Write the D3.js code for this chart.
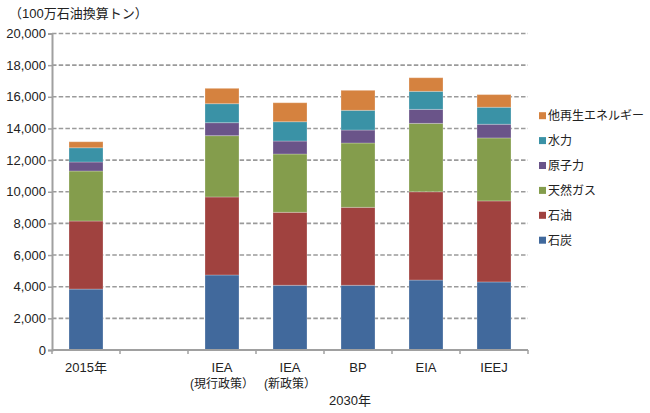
<!DOCTYPE html>
<html><head><meta charset="utf-8">
<script src="https://cdn.jsdelivr.net/npm/d3@7"></script>
<style>
html,body{margin:0;padding:0;background:#fff;}
svg{display:block;font-family:"Liberation Sans","Noto Sans CJK JP",sans-serif;}
</style></head>
<body><svg id="c" width="650" height="413"></svg>
<script>
// ---- data ----
const categories = ["2015", "gap", "IEA_cur", "IEA_new", "BP", "EIA", "IEEJ"];
const categoryLabels = [["2015年"], [], ["IEA", "(現行政策）"], ["IEA", "(新政策）"], ["BP"], ["EIA"], ["IEEJ"]];
const groupLabel = "2030年";
const seriesNames = ["石炭", "石油", "天然ガス", "原子力", "水力", "他再生エネルギー"];
const coal    = [3850, 0, 4740, 4090, 4090, 4420, 4300];
const oil     = [4300, 0, 4930, 4610, 4925, 5580, 5120];
const gas     = [3160, 0, 3875, 3685, 4065, 4320, 3980];
const nuclear = [570,  0, 820,  820,  820,  885,  865];
const hydro   = [900,  0, 1200, 1220, 1245, 1140, 1075];
const otherRe = [380,  0, 970,  1200, 1265, 860,  800];
const yTicks = [0, 2000, 4000, 6000, 8000, 10000, 12000, 14000, 16000, 18000, 20000];
const unitLabel = "（100万石油換算トン）";
const colors = ["#41699c", "#a0423f", "#849d4c", "#6a5489", "#3a92a6", "#d5823f"];

// ---- build ----
const seriesArrays = [coal, oil, gas, nuclear, hydro, otherRe];
const rows = categories.map((c, i) => {
  const r = {cat: c};
  seriesNames.forEach((s, j) => r[s] = seriesArrays[j][i]);
  return r;
});

const svg = d3.select("#c");
const mLeft = 52, mRight = 528, mTop = 33.5, mBottom = 350;

const x = d3.scaleBand().domain(categories).range([mLeft, mRight]).paddingInner(0.5).paddingOuter(0.25);
const y = d3.scaleLinear().domain([0, 20000]).range([mBottom, mTop]);

// gridlines
svg.append("g").selectAll("line").data(yTicks.filter(d => d > 0)).join("line")
  .attr("x1", mLeft).attr("x2", mRight)
  .attr("y1", d => y(d)).attr("y2", d => y(d))
  .attr("stroke", "#9a9a9a").attr("stroke-width", 1.6)
  .attr("stroke-dasharray", "4.5,2.2");

// bars
const stack = d3.stack().keys(seriesNames)(rows);
svg.append("g").selectAll("g").data(stack).join("g")
  .attr("fill", (d, i) => colors[i])
  .selectAll("rect").data(d => d.filter(p => p[1] - p[0] > 0)).join("rect")
  .attr("x", d => x(d.data.cat))
  .attr("width", x.bandwidth())
  .attr("y", d => y(d[1]))
  .attr("height", d => y(d[0]) - y(d[1]))
  .attr("stroke", "rgba(255,255,255,0.25)").attr("stroke-width", 1);

// y axis
const yAxis = d3.axisLeft(y).tickValues(yTicks).tickSize(4).tickPadding(2)
  .tickFormat(d3.format(","));
const ya = svg.append("g").attr("transform", `translate(${mLeft},0)`).call(yAxis);
ya.select(".domain").attr("stroke", "#a0a0a0").attr("stroke-width", 2);
ya.selectAll(".tick line").attr("stroke", "#a0a0a0").attr("stroke-width", 1.5);
ya.selectAll(".tick text").attr("font-size", 13).attr("fill", "#222")
  .attr("font-family", "'Liberation Sans', 'Noto Sans CJK JP', sans-serif");

// x axis line and boundary ticks
const step = x.step();
const boundaries = d3.range(categories.length + 1).map(i => mLeft + i * step);
svg.append("line").attr("x1", mLeft).attr("x2", mRight).attr("y1", mBottom).attr("y2", mBottom)
  .attr("stroke", "#a0a0a0").attr("stroke-width", 2);
svg.append("g").selectAll("line").data(boundaries).join("line")
  .attr("x1", d => d).attr("x2", d => d).attr("y1", mBottom).attr("y2", mBottom + 4)
  .attr("stroke", "#a0a0a0").attr("stroke-width", 1.5);

// x labels
const xl = svg.append("g").attr("fill", "#222").attr("text-anchor", "middle");
categories.forEach((c, i) => {
  categoryLabels[i].forEach((t, k) => {
    xl.append("text").attr("x", x(c) + x.bandwidth() / 2).attr("y", 371.5 + k * 16.5)
      .attr("font-size", k === 0 ? 13 : 12).text(t);
  });
});
xl.append("text").attr("x", 350).attr("y", 405).attr("font-size", 13).text(groupLabel);

// unit label
svg.append("text").attr("x", 9).attr("y", 18).attr("font-size", 13).attr("fill", "#222").text(unitLabel);

// legend
const lg = svg.append("g");
const order = d3.range(seriesNames.length).reverse();
order.forEach((si, k) => {
  const yy = 115.7 + k * 24.9;
  lg.append("rect").attr("x", 539).attr("y", yy - 3.5).attr("width", 7).attr("height", 7).attr("fill", colors[si]);
  lg.append("text").attr("x", 548).attr("y", yy + 4.3).attr("font-size", 12).attr("fill", "#222").text(seriesNames[si]);
});
</script></body></html>
